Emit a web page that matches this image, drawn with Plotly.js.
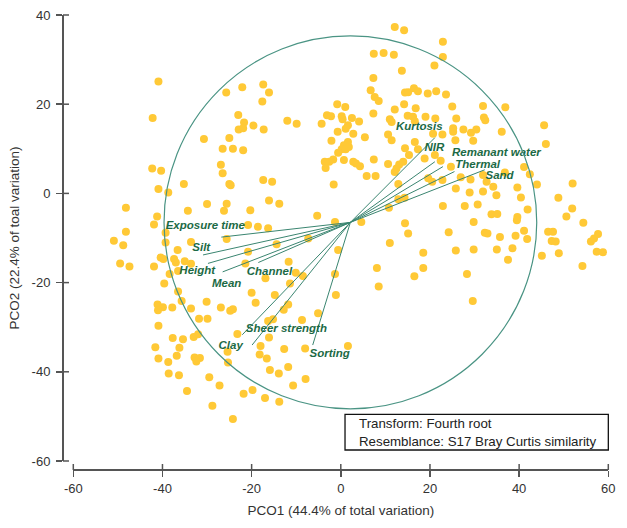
<!DOCTYPE html>
<html>
<head>
<meta charset="utf-8">
<script src="https://cdn.plot.ly/plotly-3.0.1.min.js"></script>
<style>html,body{margin:0;padding:0;background:#fff;}#chart{width:627px;height:528px;}</style>
</head>
<body>
<div id="chart"></div>
<script>
// Sample scores on PCO1 / PCO2
const pcoX = [
-40.9,-42.2,-30.7,-42.3,-40.3,-26.9,-26.5,-26.5,-40.9,-38.7,-35.2,-48.2,-34.3,-30.0,-41.2,-26.2,
-25.7,-22.1,-17.4,-16.1,-17.6,-23.0,-21.7,-22.9,-21.9,-19.6,-17.3,-12.0,-9.9,-25.0,-24.2,-21.9,-25.0,-24.7,-17.4,-15.4,-16.1,-13.8,-25.6,-20.3,-5.3,-1.6,
-4.3,-3.1,-2.2,-0.8,1.0,0.2,0.4,2.5,1.6,1.1,-0.7,2.8,-2.1,1.6,0.7,0.2,1.1,1.8,-0.6,-1.7,-2.6,-3.6,-3.4,0.7,2.8,4.1,5.4,3.4,4.3,
12.1,14.2,22.9,22.9,21.0,7.4,9.6,11.9,13.7,7.3,6.7,7.6,8.5,7.3,14.4,15.1,16.4,17.3,19.5,21.4,23.6,14.2,16.8,12.1,25.0,31.9,11.0,11.4,15.0,16.2,16.6,19.0,21.2,25.9,32.1,32.4,10.6,11.4,16.6,20.7,22.8,25.2,25.2,27.5,29.2,30.4,25.7,29.7,14.4,15.3,17.3,7.4,10.6,12.5,13.1,14.0,12.1,18.8,21.1,22.4,24.7,5.8,7.8,12.9,19.6,20.5,22.8,26.9,29.1,31.9,25.8,28.9,31.9,14.3,12.9,10.8,22.9,27.8,30.7,
36.9,45.6,36.1,46.0,41.1,42.4,36.8,32.7,34.2,39.6,44.0,52.0,34.9,40.4,48.8,41.9,51.9,33.8,35.1,39.6,50.6,
-48.2,-50.9,-48.8,-49.5,-47.4,-41.9,-39.3,-39.3,-36.6,-33.6,-40.4,-39.8,-41.9,-37.4,-37.0,-35.0,-33.6,-36.5,-38.4,-39.6,-36.5,-35.7,-37.8,-41.1,-39.9,-41.0,-40.9,-33.6,-30.1,-31.8,-29.9,-26.9,-33.0,-32.0,-37.7,-35.4,-41.6,-36.2,-40.9,-36.8,-38.7,-31.6,-32.8,-32.4,-38.6,-36.3,-29.5,-27.2,-34.5,-28.8,
-1.3,-0.6,-1.3,-1.1,-20.8,-18.6,-16.3,-25.6,-20.8,-14.4,-7.3,-21.4,-11.7,-16.9,-10.1,-8.5,-11.4,-20.0,-14.8,-19.1,-11.8,-12.8,-24.2,-24.8,-5.1,-8.7,-15.2,-16.3,-23.2,-16.1,-18.0,-18.2,-16.6,-12.7,-8.0,1.6,-15.9,-13.9,-11.8,-7.9,-10.7,-25.3,-25.4,-21.8,-19.8,-17.0,-13.8,-24.2,
4.6,14.4,15.1,11.0,24.2,25.8,29.8,29.8,18.5,8.1,8.5,18.5,16.5,28.3,29.6,32.3,
39.5,54.4,32.9,35.7,39.2,41.1,41.8,46.5,47.6,47.3,48.2,35.0,38.5,37.5,45.1,48.9,56.1,56.8,57.7,57.4,58.8,54.2
];
const pcoY = [
25.1,16.9,12.2,5.6,5.1,6.4,4.5,10.0,1.0,0.2,2.1,-3.2,-3.9,-2.4,-5.2,-3.9,
22.6,23.8,24.4,22.6,20.6,17.6,15.9,14.3,14.6,15.2,14.3,16.3,15.6,12.4,10.0,9.7,2.1,1.8,3.0,2.6,-1.6,-2.3,-2.3,-3.8,-5.0,2.0,
15.6,17.5,17.3,20.0,19.4,17.3,16.6,16.9,15.3,14.5,13.8,13.4,11.8,11.5,10.8,9.9,9.9,10.4,9.1,7.6,7.1,7.1,5.7,7.5,7.1,16.1,12.6,6.7,6.1,
37.3,36.6,34.0,30.6,28.7,31.3,31.5,31.1,27.5,25.9,23.1,21.6,20.7,17.9,22.6,22.7,23.6,22.9,22.4,22.9,22.2,20.0,19.1,18.8,19.5,19.6,16.6,16.0,17.4,17.2,16.2,17.2,16.8,16.8,17.0,16.4,13.2,11.9,11.5,13.4,13.2,14.6,13.8,14.3,13.6,14.3,11.9,11.8,10.1,8.6,9.9,7.6,6.6,5.6,6.5,7.1,4.8,7.8,8.6,7.3,6.0,3.9,3.9,2.1,3.4,2.6,3.0,3.6,3.1,4.1,1.1,0.2,0.4,-1.0,-1.3,-3.2,-2.8,-2.8,-2.5,
19.3,15.3,13.8,11.1,5.9,4.3,4.7,2.6,1.5,1.3,2.0,2.2,-0.4,-0.9,-1.0,-3.6,-3.4,-4.7,-4.6,-5.3,-5.2,
-8.6,-10.6,-11.6,-15.7,-16.4,-7.0,-8.8,-11.0,-12.7,-10.9,-14.4,-14.7,-16.4,-14.7,-15.5,-15.2,-15.8,-17.4,-18.1,-20.2,-22.0,-24.1,-25.6,-24.9,-25.5,-26.2,-29.7,-25.8,-24.3,-28.1,-28.1,-25.6,-32.2,-31.6,-32.4,-32.7,-34.5,-34.6,-37.0,-36.4,-37.8,-36.9,-36.8,-37.7,-40.4,-40.8,-41.2,-43.1,-44.3,-47.6,
-6.4,-12.7,-18.1,-22.8,-7.1,-7.5,-7.8,-10.2,-13.1,-11.4,-10.1,-15.7,-15.3,-19.0,-17.8,-18.5,-20.2,-22.3,-22.8,-24.5,-24.9,-26.1,-26.0,-26.3,-26.9,-28.4,-28.2,-28.6,-31.5,-32.3,-34.2,-36.1,-37.0,-34.9,-34.8,-34.2,-39.6,-40.4,-38.9,-41.6,-43.1,-37.9,-35.5,-44.9,-44.1,-45.9,-46.7,-50.6,
-6.4,-6.7,-9.0,-11.1,-8.7,-12.8,-6.4,-12.6,-13.3,-16.7,-20.9,-16.7,-18.6,-18.1,-24.1,-8.8,
-6.0,-6.6,-9.0,-9.8,-9.5,-8.4,-10.2,-8.6,-8.6,-10.7,-10.8,-12.6,-12.3,-14.9,-14.0,-13.4,-10.8,-10.1,-9.1,-13.1,-13.2,-16.3
];

// Vector overlay (correlation vectors)
const vecNames = ['Kurtosis','NIR','Remanant water','Thermal','Sand','Exposure time','Silt','Height','Mean','Channel','Sheer strength','Clay','Sorting'];
const vecTipX = [21.1, 21.1, 22.9, 25.5, 32.3, -26.8, -30.9, -29.8, -26.5, -18.5, -22.1, -19.9, -6.3];
const vecTipY = [12.5, 7.1, 6.0, 4.9, 5.3, -9.8, -13.8, -15.7, -17.6, -15.5, -31.7, -34.0, -34.0];
const vecLabelX = [17.6, 21.0, 34.9, 30.7, 35.6, -30.4, -31.3, -32.2, -25.6, -16.0, -12.2, -24.7, -2.5];
const vecLabelY = [14.8, 10.1, 9.1, 6.4, 3.9, -7.4, -12.2, -17.4, -20.4, -17.7, -30.5, -34.2, -36.0];
const circleCenter = [2.15, -6.5];
const circleRadius = 41.8;

const xTicks = [-60, -40, -20, 0, 20, 40, 60];
const yTicks = [-60, -40, -20, 0, 20, 40];
const xRange = [-60, 60];
const yRange = [-60, 40];
const xTitle = 'PCO1 (44.4% of total variation)';
const yTitle = 'PCO2 (22.4% of toal variation)';
const noteLines = ['Transform: Fourth root', 'Resemblance: S17 Bray Curtis similarity'];

const FONT = 'Liberation Sans, Arial, sans-serif';
const AXC = '#555555';

const W = 627, H = 528;
const M = {l:63, r:15, t:10, b:58};
const xDom = [0.01876, 0.99326];
const yDom = [0.01957, 0.98913];
const TICK_IN = 6; // px length of the inner half of each crossing tick

const vx = [], vy = [];
vecNames.forEach((n, i) => {
  vx.push(circleCenter[0], vecTipX[i], null);
  vy.push(circleCenter[1], vecTipY[i], null);
});

const traces = [
  {type:'scatter', mode:'markers', x:pcoX, y:pcoY, hoverinfo:'skip',
   marker:{color:'#FFC936', size:8, line:{width:0}}},
  {type:'scatter', mode:'lines', x:vx, y:vy, hoverinfo:'skip',
   line:{color:'#3a8570', width:1}},
  {type:'scatter', mode:'text', x:vecLabelX, y:vecLabelY, cliponaxis:false, hoverinfo:'skip',
   text:vecNames.map(n => '<b><i>' + n + '</i></b>'),
   textposition:'middle center',
   textfont:{family:FONT, size:11.5, color:'#1c6a45'}}
];

// inner halves of the crossing tick marks (axes sit at paper 0 on each side)
const pw = W - M.l - M.r, ph = H - M.t - M.b;
const xToPaper = v => xDom[0] + (v - xRange[0]) / (xRange[1] - xRange[0]) * (xDom[1] - xDom[0]);
const yToPaper = v => yDom[0] + (v - yRange[0]) / (yRange[1] - yRange[0]) * (yDom[1] - yDom[0]);
const tickShapes = [];
xTicks.forEach(v => tickShapes.push({type:'line', xref:'paper', yref:'paper',
  x0:xToPaper(v), x1:xToPaper(v), y0:0, y1:TICK_IN/ph, line:{color:AXC, width:1.5}}));
yTicks.forEach(v => tickShapes.push({type:'line', xref:'paper', yref:'paper',
  x0:0, x1:TICK_IN/pw, y0:yToPaper(v), y1:yToPaper(v), line:{color:AXC, width:1.5}}));

const baseAxis = {showgrid:false, zeroline:false, tickcolor:AXC, tickwidth:1.5, ticklen:6};

const layout = {
  width:W, height:H,
  margin:M,
  paper_bgcolor:'#ffffff', plot_bgcolor:'#ffffff',
  showlegend:false,
  font:{family:FONT, color:'#333333'},
  xaxis:Object.assign({}, baseAxis, {
    domain:xDom, range:xRange, anchor:'free', position:0,
    showline:true, linecolor:AXC, linewidth:2,
    ticks:'outside', tickvals:xTicks, ticktext:xTicks.map(String),
    tickfont:{family:FONT, size:13, color:'#333333'},
    title:{text:xTitle, font:{family:FONT, size:13.5, color:'#333333'}, standoff:10}
  }),
  yaxis:Object.assign({}, baseAxis, {
    domain:yDom, range:yRange, anchor:'free', position:0,
    showline:true, linecolor:AXC, linewidth:2,
    ticks:'outside', tickvals:yTicks, ticktext:yTicks.map(String),
    tickfont:{family:FONT, size:13, color:'#333333'},
    ticklabelstandoff:3,
    title:{text:yTitle, font:{family:FONT, size:13.5, color:'#333333'}, standoff:8}
  }),
  shapes:[
    {type:'circle', xref:'x', yref:'y',
     x0:circleCenter[0]-circleRadius, x1:circleCenter[0]+circleRadius,
     y0:circleCenter[1]-circleRadius, y1:circleCenter[1]+circleRadius,
     line:{color:'#4a9484', width:1.2}, layer:'above'},
    {type:'rect', xref:'paper', yref:'paper', x0:0.5137, x1:0.9933, y0:0.0435, y1:0.1211,
     line:{color:'#111111', width:1.3}, fillcolor:'rgba(255,255,255,0)'}
  ].concat(tickShapes),
  annotations:[
    {xref:'paper', yref:'paper', x:0.5360, y:0.1015, xanchor:'left', yanchor:'middle',
     text:noteLines[0], showarrow:false, font:{family:FONT, size:13.3, color:'#222222'}},
    {xref:'paper', yref:'paper', x:0.5360, y:0.0615, xanchor:'left', yanchor:'middle',
     text:noteLines[1], showarrow:false, font:{family:FONT, size:13.3, color:'#222222'}}
  ]
};

Plotly.newPlot('chart', traces, layout, {displayModeBar:false, staticPlot:true});
</script>
</body>
</html>
